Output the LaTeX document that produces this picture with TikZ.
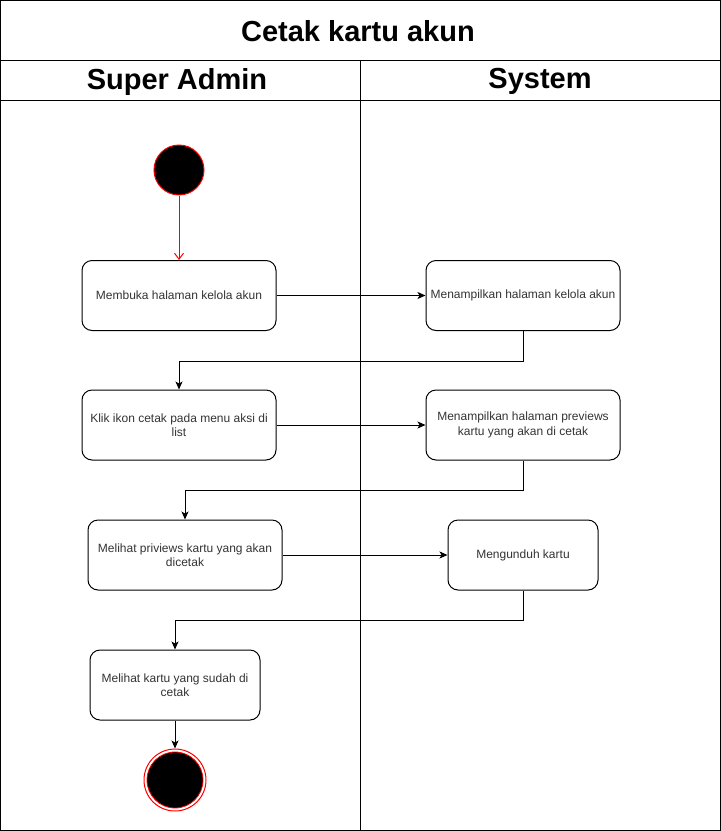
\documentclass[tikz,border=0pt]{standalone}
\usepackage{fontspec}
\setmainfont{Liberation Sans}
\usetikzlibrary{arrows.meta}
\usetikzlibrary{positioning}
\definecolor{txtgray}{HTML}{333333}

\begin{document}
\begin{tikzpicture}[x=1pt, y=-1pt,
  lane/.style={draw, line width=1pt},
  head/.style={font=\fontsize{29}{34}\selectfont\bfseries, inner sep=0pt},
  action/.style={draw, rounded corners=10pt, line width=1pt, minimum width=194pt, minimum height=70pt, align=center, text=txtgray, font=\fontsize{12}{14.5}\selectfont, inner sep=0pt},
  flow/.style={line width=1pt, -{Stealth[length=8pt,width=7pt,inset=2pt]}},
  startflow/.style={line width=1pt, draw=red, -{Straight Barb[length=6pt,width=9pt]}},
  startnode/.style={draw=red, fill=black, circle, line width=1pt, minimum size=50pt, inner sep=0pt},
  endnode/.style={draw=red, fill=white, circle, line width=1pt, minimum size=62pt, inner sep=0pt},
  endcore/.style={draw=red, fill=black, circle, line width=0.8pt, minimum size=56pt, inner sep=0pt}]
\useasboundingbox (0,0) rectangle (721,831);

% swimlanes
\draw[lane] (0.5,0.5) rectangle (720.5,830.5);
\draw[lane] (0.5,60.5) -- (720.5,60.5);
\draw[lane] (0.5,100.5) -- (720.5,100.5);
\draw[lane] (360.5,60.5) -- (360.5,830.5);
\node[head] (title) at (358,31) {Cetak kartu akun};
\node[head] (laneA) at (177,81.5) {Super Admin};
\node[head] (laneS) at (540,81.5) {System};

% activities
\node[startnode] (start) at (179,170) {};
\node[action] (A1) at (179,295.5) {Membuka halaman kelola akun};
\node[action] (S1) at (523,295.5) {Menampilkan halaman kelola akun};
\node[action] (A2) at (179,425) {Klik ikon cetak pada menu aksi di\\list};
\node[action] (S2) at (523,425) {Menampilkan halaman previews\\kartu yang akan di cetak};
\node[action] (A3) at (185,555) {Melihat priviews kartu yang akan\\dicetak};
\node[action, minimum width=150pt] (S3) at (523,555) {Mengunduh kartu};
\node[action, minimum width=170pt] (A4) at (175,685) {Melihat kartu yang sudah di\\cetak};
\node[endnode] (end) at (175,780) {};
\node[endcore] (endin) at (175,780) {};

% connectors
\draw[startflow] (start) -- (A1);
\draw[flow] (A1) -- (S1);
\draw[flow] (S1.south) -- ++(0,30) -| (A2.north);
\draw[flow] (A2) -- (S2);
\draw[flow] (S2.south) -- ++(0,30) -| (A3.north);
\draw[flow] (A3) -- (S3);
\draw[flow] (S3.south) -- ++(0,30) -| (A4.north);
\draw[flow] (A4) -- (end);
\end{tikzpicture}
\end{document}
